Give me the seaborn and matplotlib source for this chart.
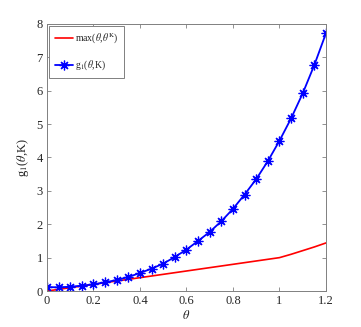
import matplotlib
matplotlib.use("Agg")
import matplotlib.pyplot as plt
import pandas as pd
import seaborn as sns

# g1(theta, K) sampled every 0.05
theta = [0.0, 0.05, 0.1, 0.15, 0.2, 0.25, 0.3, 0.35, 0.4, 0.45, 0.5, 0.55, 0.6,
         0.65, 0.7, 0.75, 0.8, 0.85, 0.9, 0.95, 1.0, 1.05, 1.1, 1.15, 1.2]
g1 = [0.12, 0.11, 0.13, 0.16, 0.20, 0.26, 0.33, 0.42, 0.54, 0.67, 0.82, 1.02, 1.24,
      1.50, 1.77, 2.09, 2.46, 2.89, 3.35, 3.89, 4.50, 5.17, 5.92, 6.77, 7.72]
# max(theta, theta^K)
theta_max = [0.0, 1.0, 1.05, 1.1, 1.15, 1.2]
max_vals = [0.0, 1.0, 1.10, 1.21, 1.32, 1.44]

sns.set_style("ticks")
plt.rcParams["font.family"] = ["Liberation Serif", "DejaVu Serif"]
plt.rcParams["mathtext.fontset"] = "stix"

grey = "#808080"
fig = plt.figure(figsize=(3.61, 3.27), dpi=100)
ax = fig.add_axes([0.130, 0.110, 0.773, 0.817])

red_df = pd.DataFrame({"theta": theta_max, "value": max_vals})
blue_df = pd.DataFrame({"theta": theta, "value": g1})
sns.lineplot(data=red_df, x="theta", y="value", color="#ff0000", lw=1.2, ax=ax,
             label=r"max($\theta$,$\theta^{\mathrm{K}}$)")
sns.lineplot(data=blue_df, x="theta", y="value", color="#0000ff", lw=1.3, ax=ax,
             marker=(8, 2, 0), markersize=7, markeredgewidth=0.9,
             markeredgecolor="#0000ff", markerfacecolor="none",
             label=r"g$_1$($\theta$,K)")

ax.set(xlim=(0, 1.2), ylim=(0, 8))
ax.set_xticks([0, 0.2, 0.4, 0.6, 0.8, 1.0, 1.2])
ax.set_xticklabels(["0", "0.2", "0.4", "0.6", "0.8", "1", "1.2"])
ax.set_yticks(range(9))
ax.set_xlabel(r"$\theta$", fontsize=9, labelpad=1, color="#262626")
ax.set_ylabel(r"g$_1$($\theta$,K)", fontsize=9, labelpad=4, color="#262626")
ax.tick_params(direction="in", top=True, right=True, length=3, width=0.6,
               colors=grey, labelcolor="#262626", labelsize=9, pad=3)
for spine in ax.spines.values():
    spine.set_visible(True)
    spine.set_color(grey)
    spine.set_linewidth(0.7)

leg = ax.legend(loc="upper left", fontsize=7, handlelength=1.9, handletextpad=0.2,
                borderaxespad=0.2, labelspacing=1.3, fancybox=False,
                framealpha=1, borderpad=0.6)
leg.get_frame().set_edgecolor(grey)
leg.get_frame().set_linewidth(0.7)

fig.savefig("out.png", dpi=100)
